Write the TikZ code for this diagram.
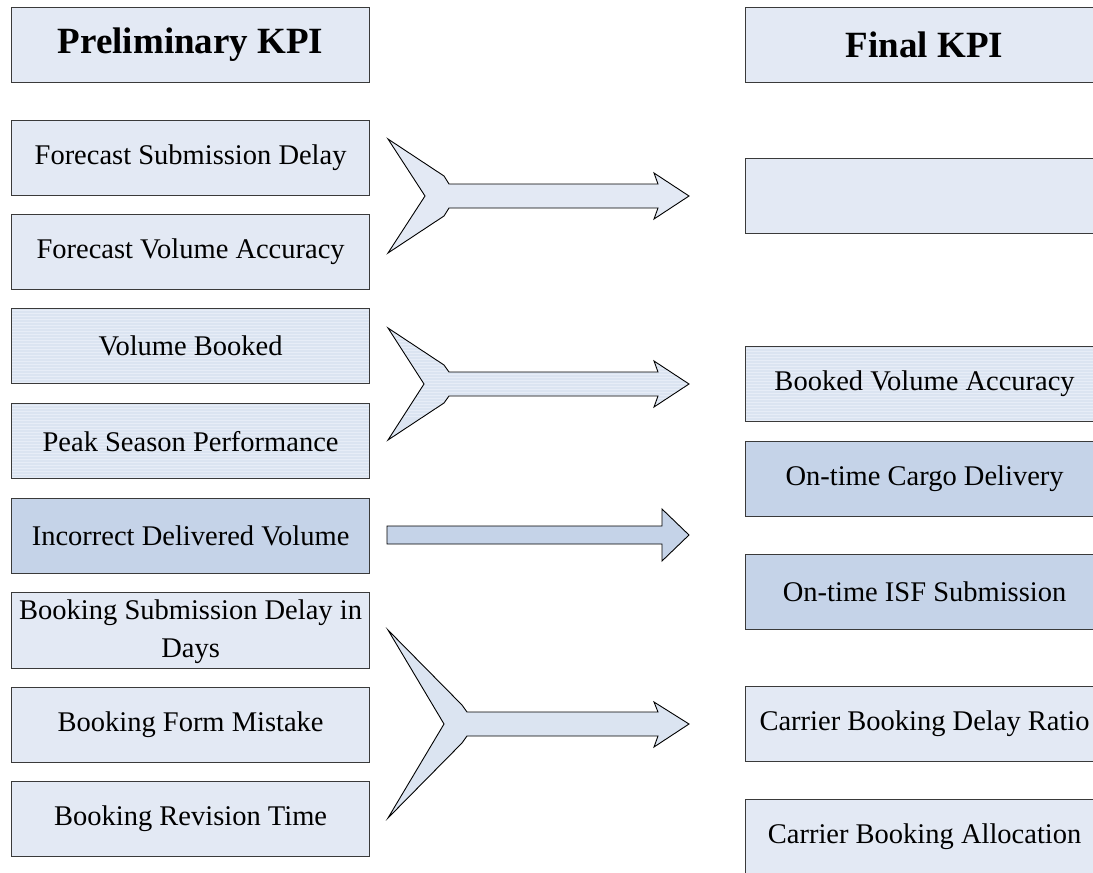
\documentclass[tikz,border=0pt]{standalone}
\usepackage{fontspec}
\setmainfont{Liberation Serif}
\definecolor{boxline}{HTML}{3A3A3A}
\definecolor{palefill}{HTML}{E3E9F4}
\definecolor{stripefill}{HTML}{DBE4F1}
\definecolor{stripeline}{HTML}{E7EDF7}
\definecolor{deepfill}{HTML}{C5D3E8}
\tikzset{
  kpi/.style={draw=boxline, line width=1.2pt, fill=palefill, anchor=north west,
    minimum width=358pt, minimum height=75pt, inner sep=0pt,
    align=center, font=\fontsize{28.5}{38}\selectfont},
  head/.style={kpi, font=\fontsize{37}{40}\selectfont\bfseries},
  deep/.style={fill=deepfill},
  striped/.style={fill=stripefill, path picture={
      \foreach \k in {1.5,4.5,...,90}
        \draw[stripeline, line width=0.9pt]
          ([yshift=-\k pt]path picture bounding box.north west) --
          ([yshift=-\k pt]path picture bounding box.north east);}},
  blockarrow/.style={draw=black, line width=0.9pt, line join=miter, fill=palefill},
}
\begin{document}
\begin{tikzpicture}[x=1pt, y=-1pt]
  \useasboundingbox (0,0) rectangle (1093,873);
  \clip (0,0) rectangle (1093,873);

  % left column: preliminary KPIs
  \node[head] (prelim) at (11,7) {Preliminary KPI};
  \node[kpi] (fsd) at (11,120) {Forecast Submission Delay};
  \node[kpi] (fva) at (11,214) {Forecast Volume Accuracy};
  \node[kpi, striped] (vb) at (11,308) {Volume Booked};
  \node[kpi, striped] (psp) at (11,403) {Peak Season Performance};
  \node[kpi, deep] (idv) at (11,498) {Incorrect Delivered Volume};
  \node[kpi] (bsd) at (11,592)
    {\raisebox{-4pt}{\begin{tabular}{@{}c@{}}Booking Submission Delay in\\Days\end{tabular}}};
  \node[kpi] (bfm) at (11,687) {Booking Form Mistake};
  \node[kpi] (brt) at (11,781) {Booking Revision Time};

  % right column: final KPIs
  \node[head] (final) at (745,7) {Final KPI};
  \node[kpi] (empty) at (745,158) {};
  \node[kpi, striped] (bva) at (745,346) {Booked Volume Accuracy};
  \node[kpi, deep] (ocd) at (745,441) {On-time Cargo Delivery};
  \node[kpi, deep] (oisf) at (745,554) {On-time ISF Submission};
  \node[kpi] (cbdr) at (745,686) {Carrier Booking Delay Ratio};
  \node[kpi] (cba) at (745,799) {Carrier Booking Allocation};

  % merging arrow: forecast group
  \draw[blockarrow] (388,139) -- (444,176) -- (449,184) -- (658,184) -- (654,173)
    -- (689,196) -- (654,219) -- (658,208) -- (449,208) -- (444,216)
    -- (388,253) -- (425,196) -- cycle;

  % merging arrow: volume group
  \draw[blockarrow, striped] (388,328) -- (444,365) -- (449,372) -- (658,372) -- (654,361)
    -- (689,384) -- (654,407) -- (658,396) -- (449,396) -- (444,403)
    -- (388,440) -- (424,384) -- cycle;

  % straight arrow: delivered volume
  \draw[blockarrow, fill=deepfill] (387,526) -- (662,526) -- (662,509) -- (689,535)
    -- (662,561) -- (662,544) -- (387,544) -- cycle;

  % merging arrow: booking group
  \draw[blockarrow, fill=stripefill] (388,630) -- (462,705) -- (467,712) -- (658,712) -- (654,702)
    -- (689,724) -- (654,747) -- (658,736) -- (467,736) -- (462,743)
    -- (388,818) -- (444,724) -- cycle;
\end{tikzpicture}
\end{document}
